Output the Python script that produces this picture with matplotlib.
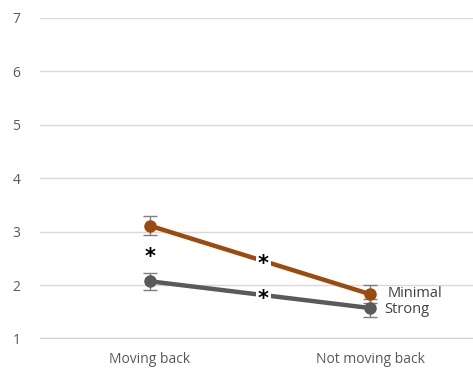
import matplotlib.pyplot as plt

categories = ["Moving back", "Not moving back"]
minimal = [3.11, 1.83]
minimal_err = [0.18, 0.17]
strong = [2.07, 1.57]
strong_err = [0.16, 0.16]
yticks = [1, 2, 3, 4, 5, 6, 7]

orange = "#9C4A0E"
grey = "#5A5A5A"

plt.rcParams['font.family'] = ['Open Sans', 'DejaVu Sans']

fig = plt.figure(figsize=(4.73, 3.74), dpi=100)
ax = fig.add_axes([40 / 473, 0.095, 1 - 40 / 473, 0.857])

x = range(len(categories))
ax.errorbar(x, minimal, yerr=minimal_err, color=orange, lw=3.2, marker="o", ms=8,
            ecolor="#7F7F7F", elinewidth=1, capsize=5, capthick=1, zorder=3)
ax.errorbar(x, strong, yerr=strong_err, color=grey, lw=3.2, marker="o", ms=8,
            ecolor="#7F7F7F", elinewidth=1, capsize=5, capthick=1, zorder=3)

# significance markers
star = dict(ha="center", va="center", fontsize=15, color="black", zorder=5,
            family="DejaVu Sans", fontweight="bold")
ax.text(0, 2.52, "*", **star)
ax.text(0.514, 2.40, "*", bbox=dict(facecolor="white", edgecolor="none", pad=1.5), **star)
ax.text(0.514, 1.74, "*", bbox=dict(facecolor="white", edgecolor="none", pad=1.5), **star)

ax.text(1.08, minimal[1] + 0.02, "Minimal", fontsize=10.5, color="#404040", va="center")
ax.text(1.065, strong[1] - 0.02, "Strong", fontsize=10.5, color="#404040", va="center")

ax.set_xlim(-0.5, 1.468)
ax.set_ylim(1, 7)
ax.set_xticks(list(x))
ax.set_xticklabels(categories)
ax.set_yticks(yticks)
ax.grid(axis="y", color="#D9D9D9", lw=1)
ax.set_axisbelow(True)
for s in ["top", "right", "left"]:
    ax.spines[s].set_visible(False)
ax.spines["bottom"].set_color("#D0D0D0")
ax.tick_params(length=0, colors="#595959", labelsize=10)
ax.tick_params(axis="x", pad=10)
ax.tick_params(axis="y", pad=14)

fig.savefig("out.png", dpi=100)
